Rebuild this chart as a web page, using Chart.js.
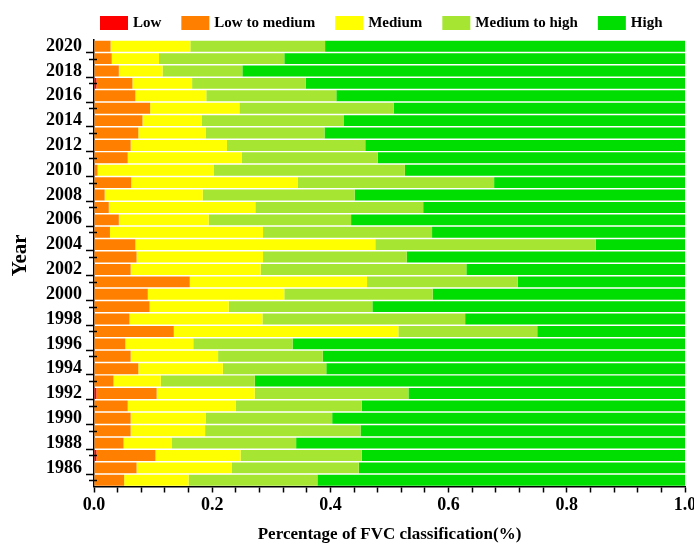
<!DOCTYPE html>
<html>
<head>
<meta charset="utf-8">
<script src="https://cdn.jsdelivr.net/npm/chart.js@4/dist/chart.umd.min.js"></script>
<style>
html,body{margin:0;padding:0;background:#fff;overflow:hidden;}
#wrap{width:694px;height:544px;}
</style>
</head>
<body>
<div id="wrap"><canvas id="c" width="694" height="544"></canvas></div>
<script>
const years = [1985,1986,1987,1988,1989,1990,1991,1992,1993,1994,1995,1996,1997,1998,1999,2000,2001,2002,2003,2004,2005,2006,2007,2008,2009,2010,2011,2012,2013,2014,2015,2016,2017,2018,2019,2020];
const seriesNames = ['Low','Low to medium','Medium','Medium to high','High'];
const lowData = [0,0,0.004,0,0,0,0,0.004,0,0,0,0,0,0,0,0,0,0,0,0,0,0,0,0,0,0,0,0,0,0,0,0,0.004,0,0,0];
const lowMedData = [0.051,0.072,0.100,0.050,0.062,0.062,0.057,0.102,0.033,0.075,0.062,0.053,0.135,0.060,0.094,0.091,0.162,0.062,0.072,0.070,0.027,0.042,0.025,0.018,0.063,0.006,0.057,0.062,0.075,0.082,0.095,0.070,0.061,0.042,0.030,0.028];
const medData = [0.109,0.161,0.144,0.082,0.126,0.127,0.183,0.166,0.080,0.143,0.148,0.115,0.380,0.225,0.134,0.231,0.300,0.220,0.214,0.406,0.259,0.152,0.248,0.166,0.282,0.197,0.193,0.163,0.114,0.100,0.151,0.120,0.101,0.074,0.080,0.135];
const medHighData = [0.218,0.215,0.205,0.210,0.263,0.214,0.213,0.260,0.159,0.175,0.177,0.168,0.235,0.343,0.243,0.251,0.255,0.348,0.243,0.373,0.286,0.241,0.284,0.257,0.332,0.323,0.230,0.234,0.201,0.241,0.261,0.220,0.192,0.135,0.212,0.228];
const highData = [0.622,0.552,0.547,0.658,0.549,0.597,0.547,0.468,0.728,0.607,0.613,0.664,0.250,0.372,0.529,0.427,0.283,0.370,0.471,0.151,0.428,0.565,0.443,0.559,0.323,0.474,0.520,0.541,0.610,0.577,0.493,0.590,0.642,0.749,0.678,0.609];
const colors = ['#FF0000','#FF8000','#FFFF00','#A6E633','#00DD00'];

const FONT = '"Liberation Serif", "Times New Roman", serif';

const topLegend = {
  id: 'topLegend',
  afterDraw(chart) {
    const ctx = chart.ctx;
    ctx.save();
    ctx.font = 'bold 15px ' + FONT;
    ctx.textBaseline = 'middle';
    ctx.textAlign = 'left';
    let x = 100;
    chart.data.datasets.forEach(ds => {
      ctx.fillStyle = ds.backgroundColor;
      ctx.fillRect(x, 16, 28, 14);
      ctx.fillStyle = '#000';
      ctx.fillText(ds.label, x + 33, 23.5);
      x += 33 + ctx.measureText(ds.label).width + 20;
    });
    ctx.restore();
  }
};

const minorTicks = {
  id: 'minorTicks',
  afterDraw(chart) {
    const ctx = chart.ctx, ys = chart.scales.y, x0 = chart.chartArea.left;
    ctx.save();
    ctx.strokeStyle = '#000';
    ctx.lineWidth = 1.5;
    years.forEach((yr, i) => {
      if (yr % 2 !== 0) {
        const py = Math.round(ys.getPixelForValue(i)) + 0.5;
        ctx.beginPath();
        ctx.moveTo(x0 - 5, py);
        ctx.lineTo(x0 + 3, py);
        ctx.stroke();
      }
    });
    ctx.restore();
  }
};

const allData = [lowData, lowMedData, medData, medHighData, highData];

new Chart(document.getElementById('c'), {
  type: 'bar',
  data: {
    labels: years.map(String),
    datasets: seriesNames.map((n, k) => ({
      label: n,
      data: allData[k],
      backgroundColor: colors[k],
      borderWidth: 0,
      barPercentage: 0.88,
      categoryPercentage: 1.0
    }))
  },
  options: {
    indexAxis: 'y',
    responsive: false,
    animation: false,
    layout: { padding: { top: 40, left: 8, right: 9, bottom: 0 } },
    plugins: { legend: { display: false }, tooltip: { enabled: false } },
    scales: {
      y: {
        type: 'category',
        stacked: true,
        reverse: true,
        afterFit: s => { s.width = 86; s.paddingTop = 0; s.paddingBottom = 0; },
        border: { display: true, color: '#000', width: 1.5 },
        grid: {
          display: true, drawOnChartArea: false, drawTicks: true, tickLength: 8, tickWidth: 1.5,
          tickColor: c => (years[c.index] % 2 === 0 ? '#000' : 'rgba(0,0,0,0)')
        },
        ticks: {
          autoSkip: false, padding: 4, color: '#000',
          font: { family: FONT, size: 18, weight: 'bold' },
          callback: function (v, i) { return years[i] % 2 === 0 ? String(years[i]) : ''; }
        },
        title: {
          display: true, text: '   Year', color: '#000',
          font: { family: FONT, size: 21, weight: 'bold' },
          padding: { top: 0, bottom: 0 }
        }
      },
      x: {
        type: 'linear',
        stacked: true,
        min: 0, max: 1,
        afterFit: s => { s.height = 57.5; s.paddingLeft = 0; s.paddingRight = 0; },
        border: { display: true, color: '#000', width: 1.5 },
        grid: { display: true, drawOnChartArea: false, drawTicks: true, tickLength: 6, tickWidth: 1.5, tickColor: '#000' },
        ticks: {
          stepSize: 0.04, autoSkip: false, maxRotation: 0, padding: 2, color: '#000',
          font: { family: FONT, size: 18, weight: 'bold' },
          callback: function (v) { const r = Math.round(v * 5); return Math.abs(v * 5 - r) < 1e-6 ? (r / 5).toFixed(1) : ''; }
        },
        title: {
          display: true, text: 'Percentage of FVC classification(%)', color: '#000',
          font: { family: FONT, size: 17, weight: 'bold' },
          padding: { top: 0, bottom: -1 }
        }
      }
    }
  },
  plugins: [topLegend, minorTicks]
});
</script>
</body>
</html>
